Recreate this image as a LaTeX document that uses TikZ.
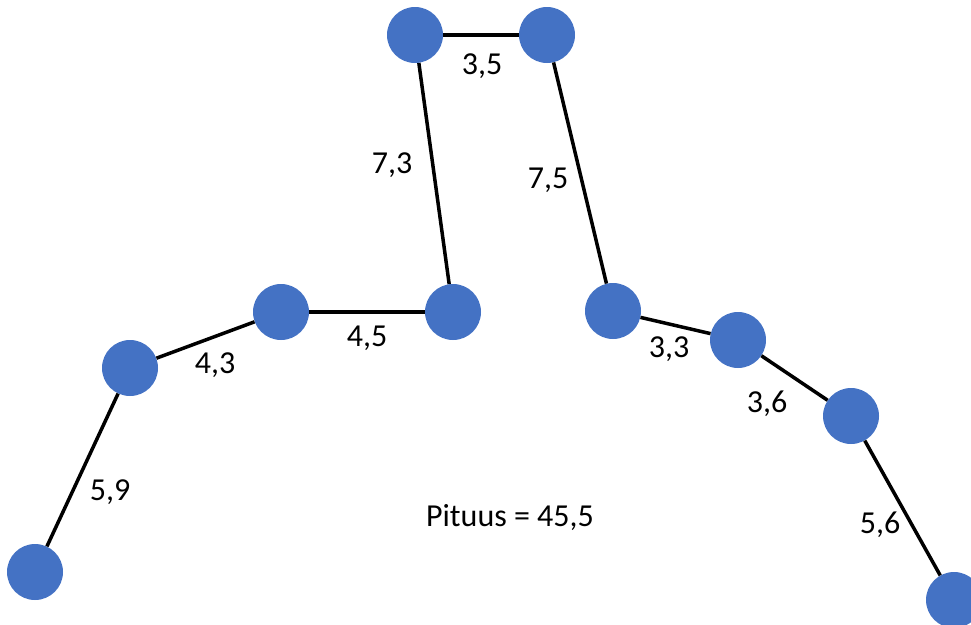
\documentclass[tikz,border=0pt]{standalone}
\usepackage{fontspec}
\setmainfont{Carlito}
\definecolor{nodeblue}{HTML}{4472C4}
\begin{document}
\begin{tikzpicture}[x=1pt,y=-1pt,
  pt/.style={circle,fill=nodeblue,draw=none,minimum size=56pt,inner sep=0pt},
  edge/.style={line width=3.5pt,black},
  lbl/.style={font=\fontsize{32}{38}\selectfont,inner sep=0pt}]
\useasboundingbox (0,0) rectangle (971,624);
\node[pt] (a) at (35,572) {};
\node[pt] (b) at (130,368) {};
\node[pt] (c) at (281,312) {};
\node[pt] (d) at (453,312) {};
\node[pt] (e) at (415,35) {};
\node[pt] (f) at (547,35) {};
\node[pt] (g) at (613,311) {};
\node[pt] (h) at (738,340) {};
\node[pt] (i) at (851,416) {};
\node[pt] (j) at (954,600) {};
\draw[edge] (a) -- (b);
\draw[edge] (b) -- (c);
\draw[edge] (c) -- (d);
\draw[edge] (d) -- (e);
\draw[edge] (e) -- (f);
\draw[edge] (f) -- (g);
\draw[edge] (g) -- (h);
\draw[edge] (h) -- (i);
\draw[edge] (i) -- (j);
\node[lbl] (l1) at (110,492) {5,9};
\node[lbl] (l2) at (215,365) {4,3};
\node[lbl] (l3) at (367,338) {4,5};
\node[lbl] (l4) at (392,165) {7,3};
\node[lbl] (l5) at (482,66) {3,5};
\node[lbl] (l6) at (548,180) {7,5};
\node[lbl] (l7) at (669,349) {3,3};
\node[lbl] (l8) at (767,404) {3,6};
\node[lbl] (l9) at (880,525) {5,6};
\node[lbl] (tot) at (510,518) {Pituus = 45,5};
\end{tikzpicture}
\end{document}
